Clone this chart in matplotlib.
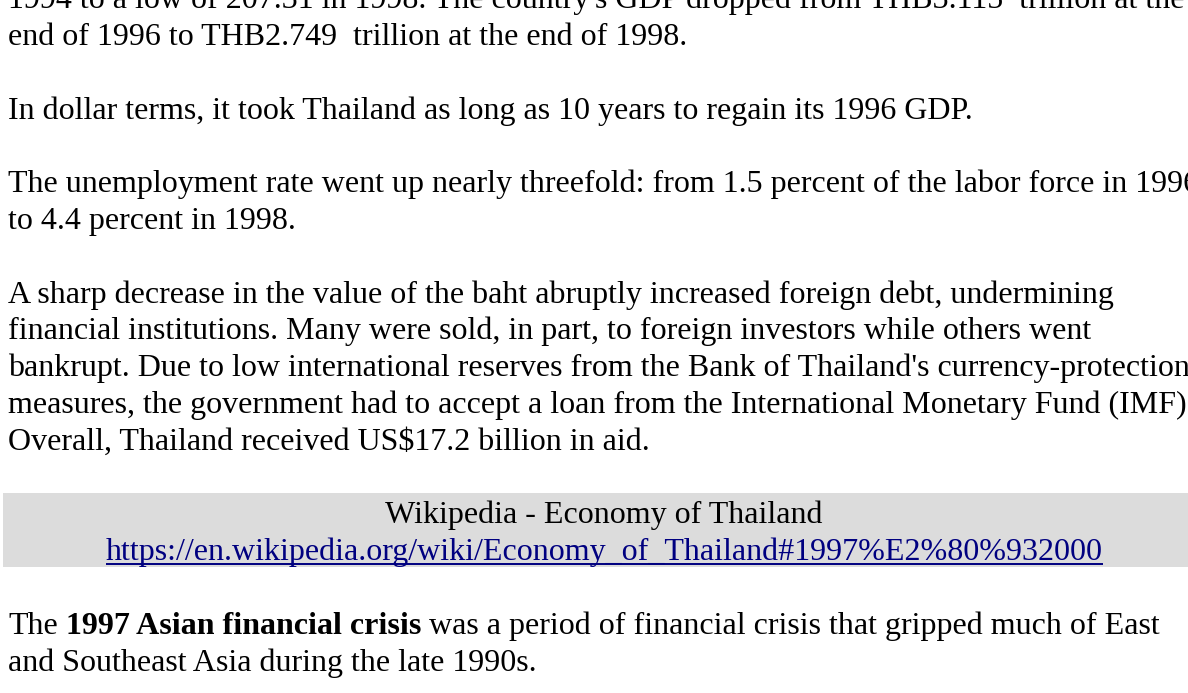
import matplotlib.pyplot as plt
from matplotlib.patches import Rectangle

# Text content of the page, line by line (None = blank line)
body_lines = [
    "1994 to a low of 207.31 in 1998. The country's GDP dropped from THB3.115  trillion at the",
    "end of 1996 to THB2.749  trillion at the end of 1998.",
    None,
    "In dollar terms, it took Thailand as long as 10 years to regain its 1996 GDP.",
    None,
    "The unemployment rate went up nearly threefold: from 1.5 percent of the labor force in 1996",
    "to 4.4 percent in 1998.",
    None,
    "A sharp decrease in the value of the baht abruptly increased foreign debt, undermining",
    "financial institutions. Many were sold, in part, to foreign investors while others went",
    "bankrupt. Due to low international reserves from the Bank of Thailand's currency-protection",
    "measures, the government had to accept a loan from the International Monetary Fund (IMF).",
    "Overall, Thailand received US$17.2 billion in aid.",
]
source_title = "Wikipedia - Economy of Thailand"
source_url = "https://en.wikipedia.org/wiki/Economy_of_Thailand#1997%E2%80%932000"
# last paragraph: (text, bold) runs per line
last_par = [
    [("The", False), ("1997 Asian financial crisis", True),
     ("was a period of financial crisis that gripped much of East", False)],
    [("and Southeast Asia during the late 1990s.", False)],
]

W, H = 1188, 693
FS = 23.04          # 32 px at 100 dpi
LINE = 36.8         # line height in px
TOP = 8.2           # baseline of first line
LEFT = 8
FONT = "Liberation Serif"

fig = plt.figure(figsize=(W / 100, H / 100), dpi=100)
ax = fig.add_axes([0, 0, 1, 1])
ax.set_xlim(0, W)
ax.set_ylim(H, 0)
ax.axis("off")


def baseline(k):
    return TOP + LINE * k


for k, line in enumerate(body_lines):
    if line:
        ax.text(LEFT, baseline(k), line, fontsize=FS, family=FONT,
                va="baseline", ha="left", color="black")

# grey source box
ax.add_patch(Rectangle((3, 493), W, 74, facecolor="#dcdcdc", edgecolor="none", zorder=0))
cx = 604
ax.text(cx, baseline(14), source_title, fontsize=FS, family=FONT,
        va="baseline", ha="center", color="black")
url = ax.text(cx, baseline(15), source_url, fontsize=FS, family=FONT,
              va="baseline", ha="center", color="#000080")

renderer = fig.canvas.get_renderer()
bb = url.get_window_extent(renderer)
ax.plot([bb.x0, bb.x1], [baseline(15) + 4, baseline(15) + 4],
        color="#000080", lw=1.4, solid_capstyle="butt")

# last paragraph with bold run
space = 0.25 * 32
for i, runs in enumerate(last_par):
    x = LEFT
    y = baseline(17 + i)
    for txt, bold in runs:
        t = ax.text(x, y, txt, fontsize=FS, family=FONT, va="baseline", ha="left",
                    color="black", fontweight="bold" if bold else "normal")
        e = t.get_window_extent(renderer)
        x = x + e.width + space

fig.savefig("out.png", dpi=100)
